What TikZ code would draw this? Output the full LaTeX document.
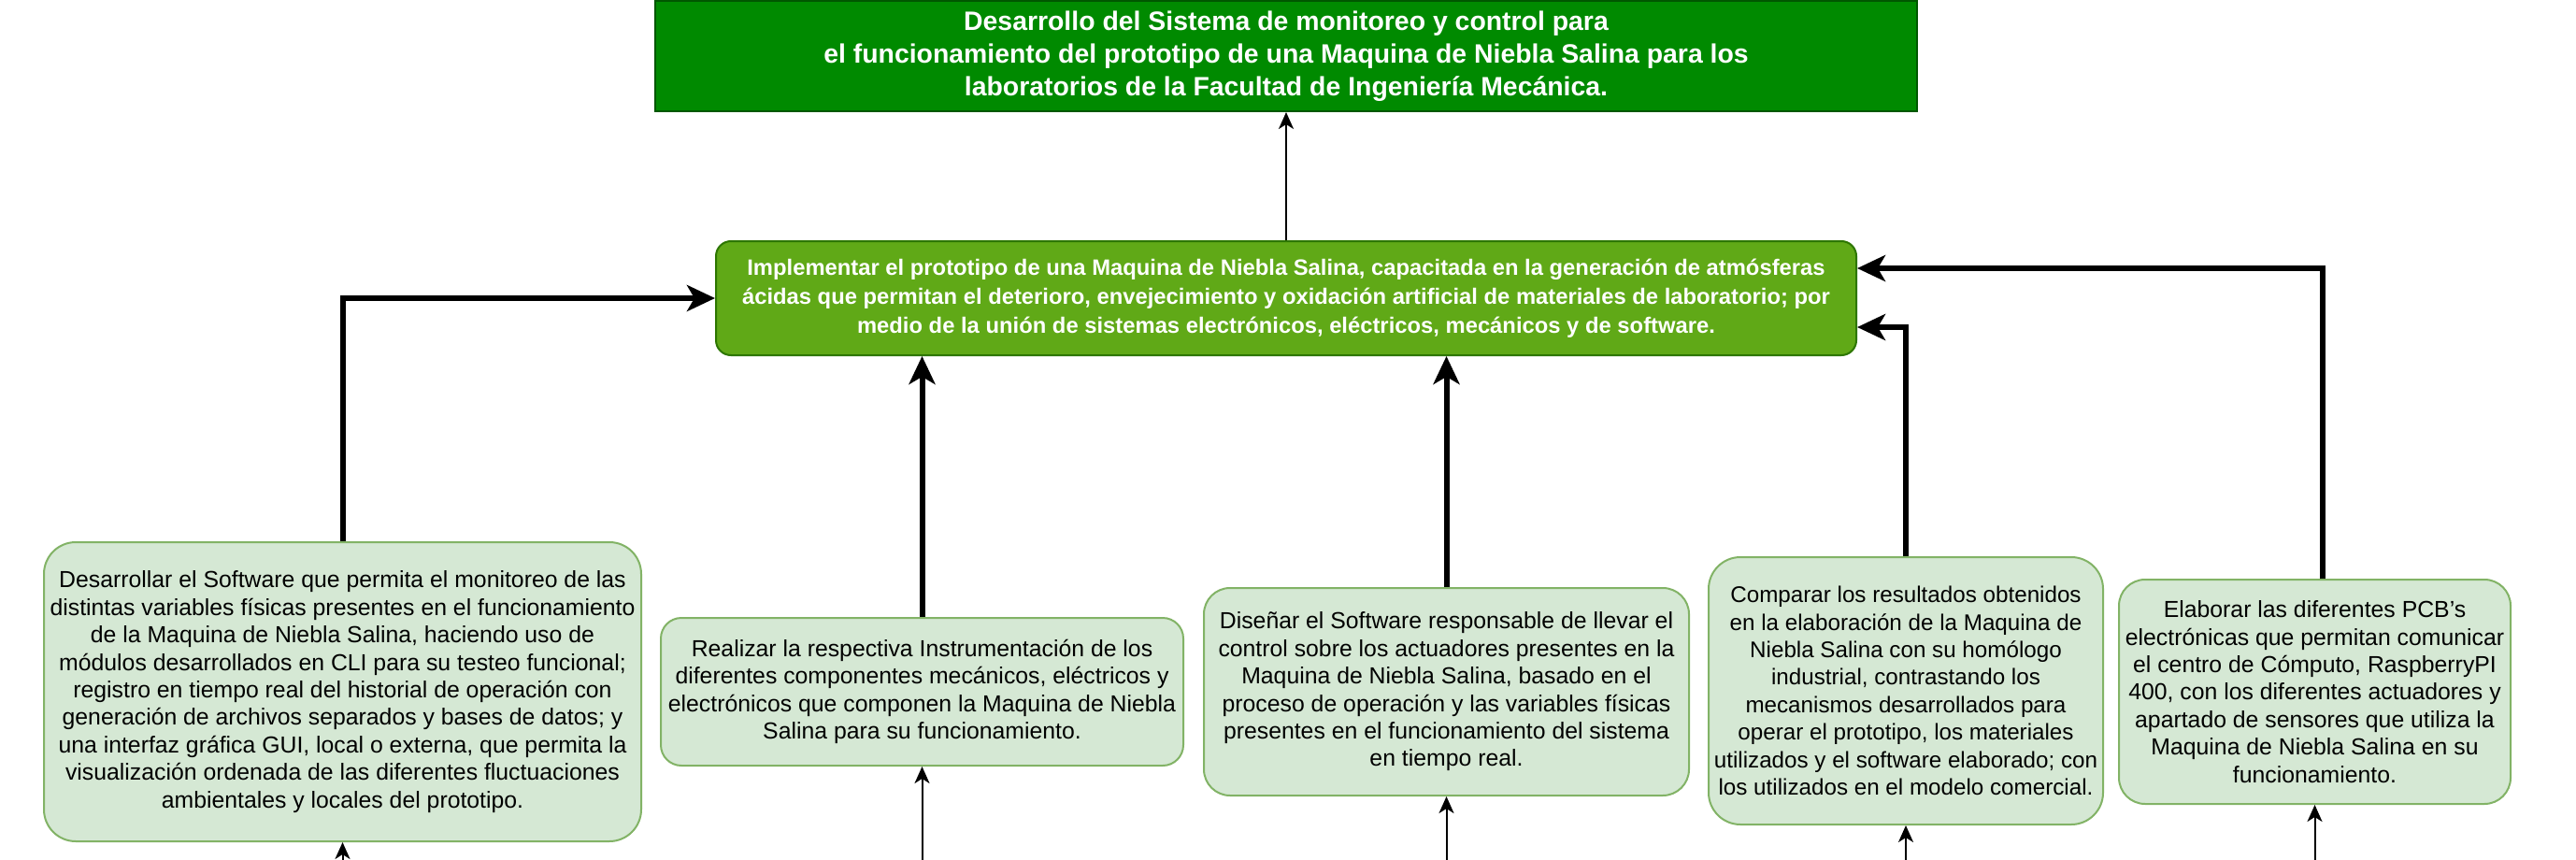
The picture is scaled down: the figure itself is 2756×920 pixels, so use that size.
\documentclass[tikz,border=0pt]{standalone}
\usepackage{fontspec}
\setmainfont{Liberation Sans}
\usepackage{tikz}
\usetikzlibrary{calc,arrows.meta}
\definecolor{goalfill}{HTML}{008A00}
\definecolor{goalline}{HTML}{005700}
\definecolor{mainfill}{HTML}{60A917}
\definecolor{mainline}{HTML}{2D7600}
\definecolor{objfill}{HTML}{D5E8D4}
\definecolor{objline}{HTML}{82B366}

\begin{document}
\begin{tikzpicture}[
x=0.5pt, y=-0.5pt,
obj/.style={
	draw=objline, fill=objfill, line width=1pt,
	rounded corners=14pt, align=center,
	inner sep=1pt, text=black,
	font=\fontsize{12.4}{14.7}\selectfont
},
main/.style={
	draw=mainline, fill=mainfill, line width=1pt,
	rounded corners=8pt, align=center, text=white,
	minimum width=610pt, minimum height=61pt,
	font=\bfseries\fontsize{11.9}{15.4}\selectfont
},
goal/.style={
	draw=goalline, fill=goalfill, line width=1pt,
	align=center, text=white,
	minimum width=675pt, minimum height=59pt,
	font=\bfseries\fontsize{14.2}{17.5}\selectfont
},
heavy/.style={line width=3pt, -{Stealth[length=15pt,width=14pt,inset=4pt]}},
light/.style={line width=1pt, -{Stealth[length=9pt,width=8pt,inset=2.5pt]}}
]
\useasboundingbox (0,0) rectangle (2756,920);

\node[goal] (T) at (1376,60) {Desarrollo del Sistema de monitoreo y control para\\
el funcionamiento del prototipo de una Maquina de Niebla Salina para los\\
laboratorios de la Facultad de Ingeniería Mecánica.};
\node[main] (P) at (1376,319) {Implementar el prototipo de una Maquina de Niebla Salina, capacitada en la generación de atmósferas\\
ácidas que permitan el deterioro, envejecimiento y oxidación artificial de materiales de laboratorio; por\\
medio de la unión de sistemas electrónicos, eléctricos, mecánicos y de software.};

\node[obj, minimum width=319.5pt, minimum height=160pt, rounded corners=17pt] (1) at (366.5,740) {Desarrollar el Software que permita el monitoreo de las\\
distintas variables físicas presentes en el funcionamiento\\
de la Maquina de Niebla Salina, haciendo uso de\\
módulos desarrollados en CLI para su testeo funcional;\\
registro en tiempo real del historial de operación con\\
generación de archivos separados y bases de datos; y\\
una interfaz gráfica GUI, local o externa, que permita la\\
visualización ordenada de las diferentes fluctuaciones\\
ambientales y locales del prototipo.};
\node[obj, minimum width=279.5pt, minimum height=79pt, rounded corners=11pt] (2) at (986.5,740) {Realizar la respectiva Instrumentación de los\\
diferentes componentes mecánicos, eléctricos y\\
electrónicos que componen la Maquina de Niebla\\
Salina para su funcionamiento.};
\node[obj, minimum width=259.5pt, minimum height=111pt] (3) at (1547.5,740) {Diseñar el Software responsable de llevar el\\
control sobre los actuadores presentes en la\\
Maquina de Niebla Salina, basado en el\\
proceso de operación y las variables físicas\\
presentes en el funcionamiento del sistema\\
en tiempo real.};
\node[obj, minimum width=211pt, minimum height=143pt, rounded corners=17pt,
	font=\fontsize{12.1}{14.7}\selectfont] (4) at (2039,739) {Comparar los resultados obtenidos\\
en la elaboración de la Maquina de\\
Niebla Salina con su homólogo\\
industrial, contrastando los\\
mecanismos desarrollados para\\
operar el prototipo, los materiales\\
utilizados y el software elaborado; con\\
los utilizados en el modelo comercial.};
\node[obj, minimum width=209.5pt, minimum height=120pt] (5) at (2476.5,740) {Elaborar las diferentes PCB’s\\
electrónicas que permitan comunicar\\
el centro de Cómputo, RaspberryPI\\
400, con los diferentes actuadores y\\
apartado de sensores que utiliza la\\
Maquina de Niebla Salina en su\\
funcionamiento.};

\coordinate (floor) at (0,920);

% objectives up to the main objective
\draw[heavy] (1.north) |- (P.west);
\foreach \i in {2,3}
{
	\draw[heavy] (\i.north) -- (\i.north |- P.south);
}
\draw[heavy] (4.north) |- ([yshift=-15.5pt]P.east);
\draw[heavy] ([xshift=4pt]5.north) |- ([yshift=16pt]P.east);
\draw[light] (P.north) -- (T.south);

% incoming from below the page
\foreach \i in {1,...,5}
{
	\draw[light] (\i.south |- floor) -- (\i.south);
}
\end{tikzpicture}
\end{document}
